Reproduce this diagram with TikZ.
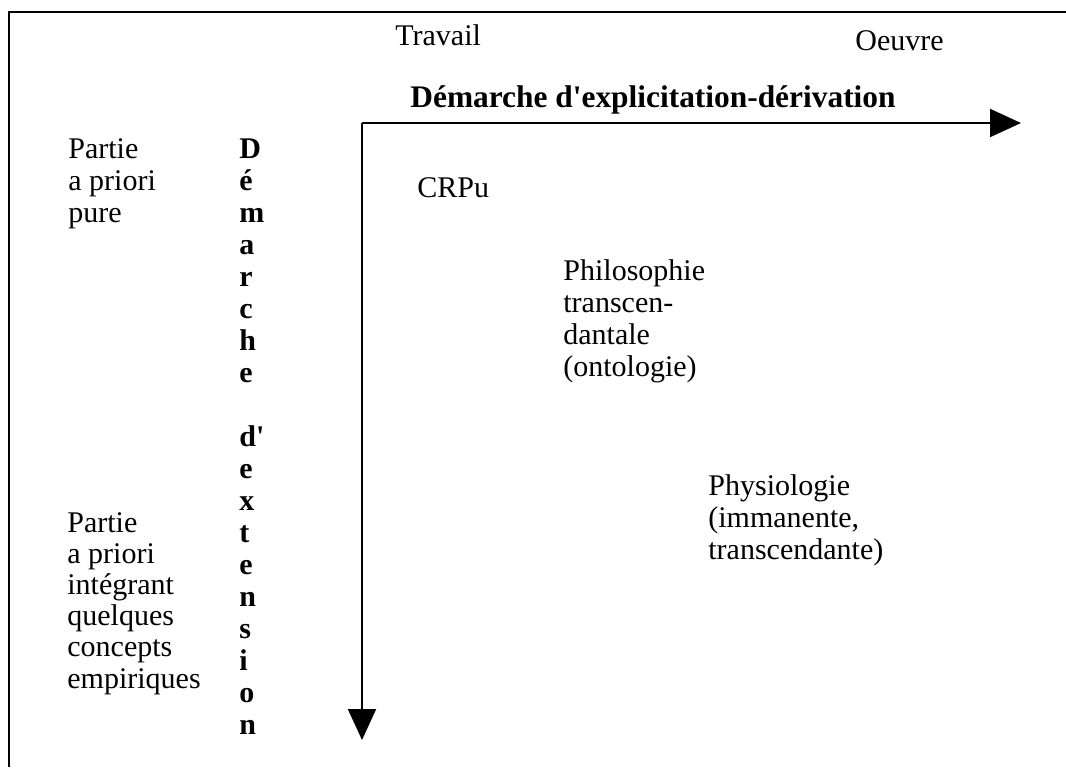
\documentclass[tikz,border=0pt]{standalone}
\usepackage{fontspec}
\setmainfont{Liberation Serif}
\usetikzlibrary{arrows.meta}

\begin{document}
\begin{tikzpicture}[x=0.5pt, y=-0.5pt,
	txt/.style={anchor=base west, inner sep=0pt, align=left, font=\fontsize{15}{16}\selectfont},
	titre/.style={txt, font=\fontsize{15.7}{16}\selectfont\bfseries},
	axe/.style={line width=1pt, -{Triangle[length=15.5pt, width=14pt]}}]
	\useasboundingbox (0,0) rectangle (1066,767);
	%% Rahmen
	\draw[line width=1pt] (9,767) -- (9,12) -- (1066,12);

	%% Achsen
	\coordinate (origine) at (362,123);
	\coordinate (finx) at (1021,123);
	\coordinate (finy) at (362,740);
	\draw[axe] (origine) -- (finx);
	\draw[axe] (origine) -- (finy);
	%%%%%%%%%%%%%%%%

	%% Beschriftung oben (base = letzte Zeile)
	\node[txt] (travail) at (395,45) {Travail};
	\node[txt] (oeuvre) at (855,50) {Oeuvre};
	\node[titre] (explicitation) at (410,107) {Démarche d\textquotesingle explicitation-dérivation};

	%% Beschriftung links
	\node[txt] (pure) at (68,222) {Partie\\a priori\\pure};
	\node[txt, font=\fontsize{15}{15.6}\selectfont] (empirique) at (67,688)
		{Partie\\a priori\\intégrant\\quelques\\concepts\\empiriques};
	\node[txt, font=\fontsize{15}{16}\selectfont\bfseries] (extension) at (239,734)
		{D\\é\\m\\a\\r\\c\\h\\e\\[16pt]d\textquotesingle\\e\\x\\t\\e\\n\\s\\i\\o\\n};

	%% Inhalt
	\node[txt] (crpu) at (417,197) {CRPu};
	\node[txt] (philo) at (563,376) {Philosophie\\transcen-\\dantale\\(ontologie)};
	\node[txt] (physio) at (708,559) {Physiologie\\(immanente,\\transcendante)};
\end{tikzpicture}
\end{document}
